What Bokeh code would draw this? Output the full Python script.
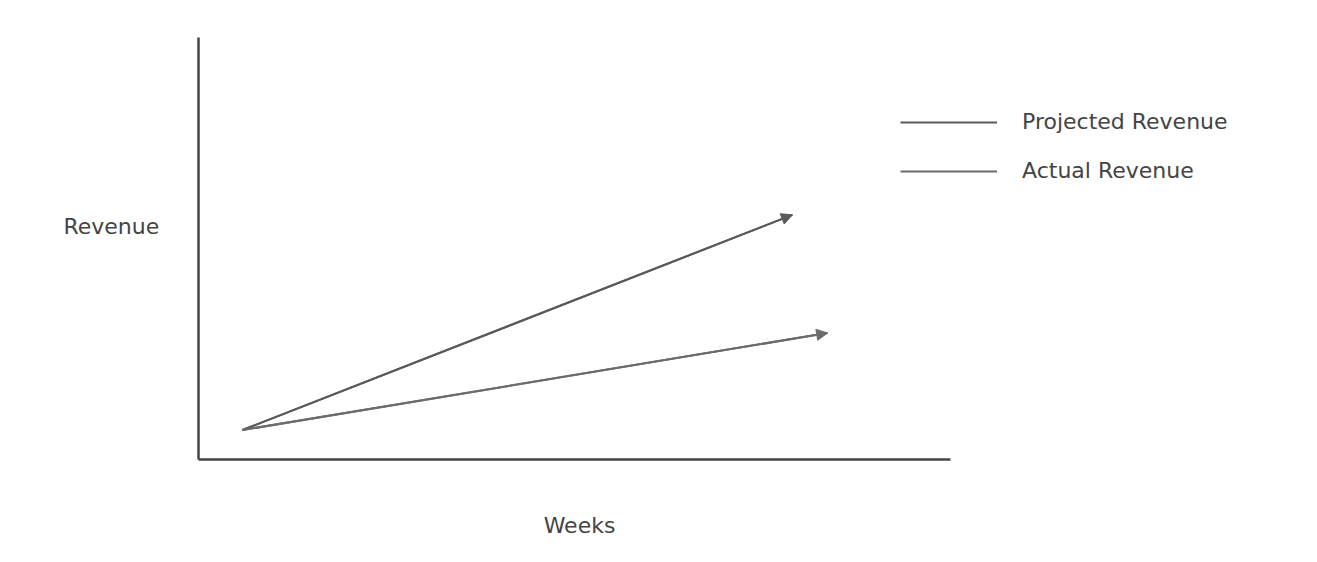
from bokeh.plotting import figure
from bokeh.models import (ColumnDataSource, Arrow, NormalHead, Label, Legend,
                          LegendItem, LinearAxis)
from bokeh.embed import file_html
from bokeh.resources import INLINE

# data (arbitrary units)
weeks_projected = [1.0, 13.5]
revenue_projected = [7, 58]
weeks_actual = [1.0, 14.3]
revenue_actual = [7, 30]

series_names = ["Projected Revenue", "Actual Revenue"]
x_label = "Weeks"
y_label = "Revenue"

FONT = "DejaVu Sans"
TEXT_COLOR = "#444444"

p = figure(width=1301, height=546, x_range=(-4.5, 25.07), y_range=(-20.6, 108.8),
           x_axis_type=None, y_axis_type=None,
           output_backend="svg", toolbar_location=None,
           min_border=0)
p.grid.visible = False
p.outline_line_color = None

# axes: just the lines, drawn at the origin
xaxis = LinearAxis(fixed_location=0, bounds=(0, 17.1))
yaxis = LinearAxis(fixed_location=0, bounds=(0, 100))
for ax in (xaxis, yaxis):
    ax.ticker = []
    ax.axis_line_width = 2.5
    ax.axis_line_color = "#444444"
    ax.major_tick_line_color = None
    ax.minor_tick_line_color = None
p.add_layout(xaxis, "below")
p.add_layout(yaxis, "left")

# the two revenue lines
r_proj = p.line(weeks_projected, revenue_projected, line_color="#5a5a5a", line_width=2)
r_act = p.line(weeks_actual, revenue_actual, line_color="#6b6b6b", line_width=2)

# arrow heads at the end of each line
for xs, ys, col in ((weeks_projected, revenue_projected, "#5a5a5a"),
                    (weeks_actual, revenue_actual, "#6b6b6b")):
    src = ColumnDataSource(dict(x0=[xs[0]], y0=[ys[0]], x1=[xs[1]], y1=[ys[1]]))
    p.add_layout(Arrow(end=NormalHead(size=11, fill_color=col, line_color=col),
                       x_start="x0", y_start="y0", x_end="x1", y_end="y1",
                       source=src, line_color=col, line_width=2))

legend = Legend(items=[LegendItem(label=series_names[0], renderers=[r_proj]),
                       LegendItem(label=series_names[1], renderers=[r_act])],
                location=(900, 363))
legend.glyph_width = 97
legend.glyph_height = 20
legend.label_height = 20
legend.spacing = 24
legend.label_standoff = 25
legend.padding = 0
legend.margin = 0
legend.border_line_color = None
legend.background_fill_alpha = 0
legend.label_text_font = FONT
legend.label_text_font_size = "22px"
legend.label_text_color = TEXT_COLOR
p.add_layout(legend)

# axis titles
p.add_layout(Label(x=-1.98, y=55.2, text=y_label, text_align="center",
                   text_baseline="middle", text_font=FONT,
                   text_font_size="22px", text_color=TEXT_COLOR))
p.add_layout(Label(x=8.66, y=-15.6, text=x_label, text_align="center",
                   text_baseline="middle", text_font=FONT,
                   text_font_size="22px", text_color=TEXT_COLOR))

open("out.html", "w").write(file_html(p, INLINE))
